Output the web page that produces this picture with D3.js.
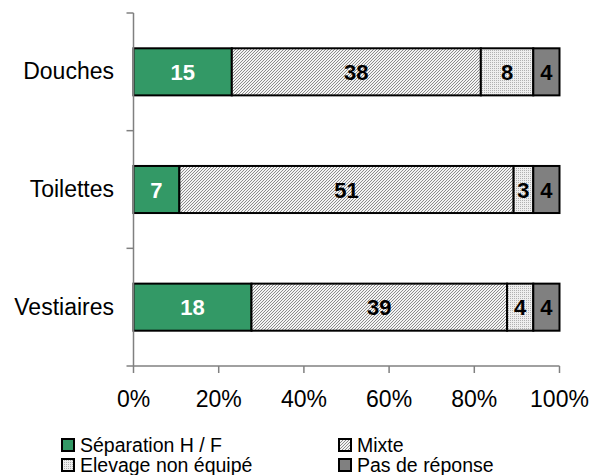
<!DOCTYPE html>
<html>
<head>
<meta charset="utf-8">
<script src="https://cdn.jsdelivr.net/npm/d3@7"></script>
<style>
  body { margin: 0; background: #fff; }
  svg text { font-family: "Liberation Sans", Arial, sans-serif; }
</style>
</head>
<body>
<div id="chart"></div>
<script>
// categories, top to bottom
var categories = ['Douches', 'Toilettes', 'Vestiaires'];
var seriesNames = ['Séparation H / F', 'Mixte', 'Elevage non équipé', 'Pas de réponse'];
// counts per category, in series order
var separation = [15, 7, 18];
var mixte = [38, 51, 39];
var nonEquipe = [8, 3, 4];
var sansReponse = [4, 4, 4];
var tickLabels = ['0%', '20%', '40%', '60%', '80%', '100%'];

(function() {
  var width = 591, height = 475;
  var plotLeft = 133.5, plotRight = 559.5, plotTop = 13, plotBottom = 366;

  var svg = d3.select('#chart').append('svg')
    .attr('width', width)
    .attr('height', height);

  // fill patterns: fine diagonal hatch and small dots
  var defs = svg.append('defs');
  var hatch = defs.append('pattern')
    .attr('id', 'hatch')
    .attr('patternUnits', 'userSpaceOnUse')
    .attr('width', 3).attr('height', 3);
  hatch.append('rect').attr('width', 3).attr('height', 3).attr('fill', '#f4f4f4');
  [[0, 2], [1, 1], [2, 0]].forEach(function(p) {
    hatch.append('rect').attr('x', p[0]).attr('y', p[1])
      .attr('width', 1).attr('height', 1).attr('fill', '#8c8c8c');
  });

  var dots = defs.append('pattern')
    .attr('id', 'dots')
    .attr('patternUnits', 'userSpaceOnUse')
    .attr('width', 2).attr('height', 2);
  dots.append('rect').attr('width', 2).attr('height', 2).attr('fill', '#eeeeee');
  dots.append('rect').attr('width', 1).attr('height', 1).attr('fill', '#b0b0b0');

  var fills = ['#339966', 'url(#hatch)', 'url(#dots)', '#808080'];
  var labelColors = ['#fff', '#000', '#000', '#000'];

  var rows = categories.map(function(c, i) {
    return { name: c, Sep: separation[i], Mix: mixte[i], Non: nonEquipe[i], Pas: sansReponse[i] };
  });
  var keys = ['Sep', 'Mix', 'Non', 'Pas'];

  var stack = d3.stack().keys(keys).offset(d3.stackOffsetExpand);
  var layers = stack(rows);

  var x = d3.scaleLinear().domain([0, 1]).range([plotLeft, plotRight]);
  var y = d3.scaleBand().domain(categories).range([plotTop, plotBottom]).paddingInner(0.6).paddingOuter(0.3);
  var yb = d3.scaleBand().domain(categories).range([plotTop, plotBottom]);

  // bars
  var g = svg.append('g');
  layers.forEach(function(layer, k) {
    g.selectAll('.s' + k).data(layer).enter().append('rect')
      .attr('x', function(d) { return x(d[0]); })
      .attr('y', function(d) { return y(d.data.name); })
      .attr('width', function(d) { return x(d[1]) - x(d[0]); })
      .attr('height', y.bandwidth())
      .attr('fill', fills[k])
      .attr('stroke', '#000')
      .attr('stroke-width', 2);

    g.selectAll('.t' + k).data(layer).enter().append('text')
      .attr('x', function(d) { return (x(d[0]) + x(d[1])) / 2; })
      .attr('y', function(d) { return y(d.data.name) + y.bandwidth() / 2 + 8; })
      .attr('text-anchor', 'middle')
      .attr('font-size', 22)
      .attr('font-weight', 'bold')
      .attr('fill', labelColors[k])
      .text(function(d) { return d.data[keys[k]]; });
  });

  // y axis
  svg.append('line')
    .attr('x1', plotLeft).attr('x2', plotLeft).attr('y1', plotTop).attr('y2', plotBottom)
    .attr('stroke', '#808080').attr('stroke-width', 1.5);
  var yTicks = categories.map(function(c) { return yb(c); }).concat([plotBottom]);
  svg.selectAll('.ytick').data(yTicks).enter().append('line')
    .attr('x1', plotLeft - 7).attr('x2', plotLeft)
    .attr('y1', function(d) { return d; }).attr('y2', function(d) { return d; })
    .attr('stroke', '#808080').attr('stroke-width', 1.5);
  svg.selectAll('.ylab').data(categories).enter().append('text')
    .attr('x', 114)
    .attr('y', function(d) { return yb(d) + yb.bandwidth() / 2 + 7.5; })
    .attr('text-anchor', 'end')
    .attr('font-size', 23)
    .text(function(d) { return d; });

  // x axis
  svg.append('line')
    .attr('x1', plotLeft).attr('x2', plotRight).attr('y1', plotBottom).attr('y2', plotBottom)
    .attr('stroke', '#808080').attr('stroke-width', 1.5);
  var xTicks = d3.range(0, 1.0001, 0.2);
  svg.selectAll('.xtick').data(xTicks).enter().append('line')
    .attr('x1', function(d) { return x(d); }).attr('x2', function(d) { return x(d); })
    .attr('y1', plotBottom).attr('y2', plotBottom + 7)
    .attr('stroke', '#808080').attr('stroke-width', 1.5);
  svg.selectAll('.xlab').data(xTicks).enter().append('text')
    .attr('x', function(d) { return x(d); })
    .attr('y', 407)
    .attr('text-anchor', 'middle')
    .attr('font-size', 23)
    .text(function(d, i) { return tickLabels[i]; });

  // legend, two columns
  var legendPos = [[61, 438], [338, 438], [61, 458], [338, 458]];
  seriesNames.forEach(function(name, k) {
    var p = legendPos[k];
    svg.append('rect')
      .attr('x', p[0] + 1).attr('y', p[1] + 1)
      .attr('width', 12).attr('height', 12)
      .attr('fill', fills[k])
      .attr('stroke', '#000').attr('stroke-width', 2);
    svg.append('text')
      .attr('x', p[0] + 19).attr('y', p[1] + 14)
      .attr('font-size', 19.5)
      .text(name);
  });
})();
</script>
</body>
</html>
